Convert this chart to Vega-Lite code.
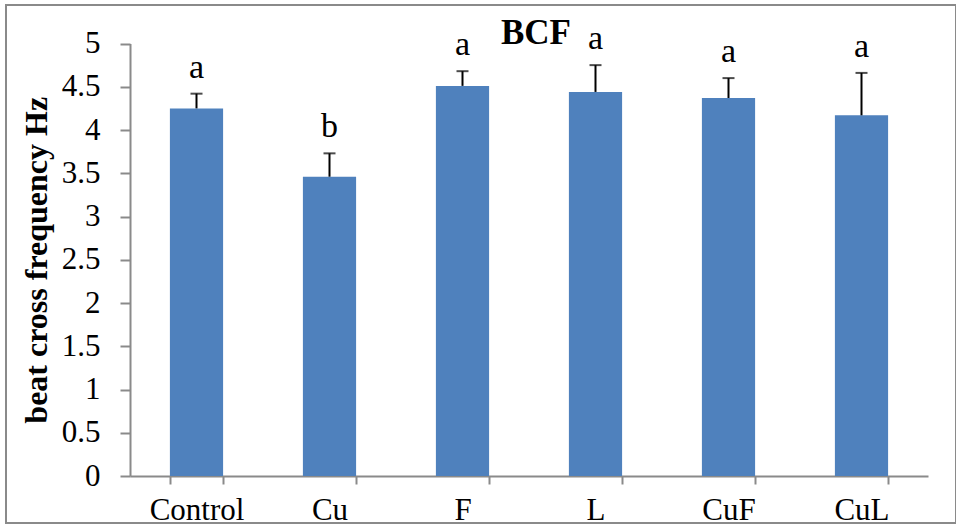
{
  "$schema": "https://vega.github.io/schema/vega-lite/v6.json",
  "width": 950,
  "height": 518,
  "autosize": {"type": "none"},
  "padding": {"left": 6, "top": 5, "right": 0, "bottom": 6},
  "background": "white",
  "config": {
    "view": {"stroke": "#8a8a8a", "strokeWidth": 2},
    "font": "Liberation Serif"
  },
  "data": {
    "values": [
      {"treatment": "Control", "mean": 4.25, "upper": 4.42, "letter": "a"},
      {"treatment": "Cu", "mean": 3.46, "upper": 3.73, "letter": "b"},
      {"treatment": "F", "mean": 4.51, "upper": 4.68, "letter": "a"},
      {"treatment": "L", "mean": 4.44, "upper": 4.75, "letter": "a"},
      {"treatment": "CuF", "mean": 4.37, "upper": 4.6, "letter": "a"},
      {"treatment": "CuL", "mean": 4.17, "upper": 4.66, "letter": "a"}
    ]
  },
  "encoding": {
    "x": {
      "field": "treatment",
      "type": "nominal",
      "sort": null,
      "scale": {"range": [124, 922], "paddingInner": 0.6, "paddingOuter": 0.3},
      "axis": {
        "orient": "bottom",
        "offset": -47,
        "title": null,
        "labelAngle": 0,
        "tickBand": "extent",
        "tickSize": 8,
        "tickWidth": 2,
        "tickColor": "#8a8a8a",
        "domainColor": "#8a8a8a",
        "domainWidth": 2,
        "labelFontSize": 31,
        "labelColor": "black",
        "labelPadding": 11,
        "labelFont": "Liberation Serif"
      }
    }
  },
  "layer": [
    {
      "mark": {"type": "bar", "color": "#4F81BD"},
      "encoding": {
        "y": {
          "field": "mean",
          "type": "quantitative",
          "scale": {"domain": [0, 5], "range": [471, 38.5], "nice": false, "zero": true},
          "axis": {
            "orient": "left",
            "offset": -124,
            "values": [0, 0.5, 1, 1.5, 2, 2.5, 3, 3.5, 4, 4.5, 5],
            "labelExpr": "'' + datum.value",
            "grid": false,
            "domainColor": "#8a8a8a",
            "domainWidth": 2,
            "tickColor": "#8a8a8a",
            "tickWidth": 2,
            "tickSize": 10,
            "labelFontSize": 31,
            "labelColor": "black",
            "labelPadding": 20,
            "labelFont": "Liberation Serif",
            "title": "beat cross frequency Hz",
            "titleFont": "Liberation Serif",
            "titleFontSize": 32,
            "titleFontWeight": "bold",
            "titleColor": "black",
            "titlePadding": 8
          }
        }
      }
    },
    {
      "mark": {"type": "rule", "color": "black", "strokeWidth": 2},
      "encoding": {
        "y": {"field": "mean", "type": "quantitative"},
        "y2": {"field": "upper"}
      }
    },
    {
      "mark": {"type": "tick", "color": "black", "thickness": 2, "size": 12},
      "encoding": {
        "y": {"field": "upper", "type": "quantitative"}
      }
    },
    {
      "mark": {"type": "text", "font": "Liberation Serif", "fontSize": 34, "baseline": "alphabetic", "dy": -16, "color": "black"},
      "encoding": {
        "y": {"field": "upper", "type": "quantitative"},
        "text": {"field": "letter"}
      }
    },
    {
      "data": {"values": [{"chart_title": "BCF"}]},
      "mark": {"type": "text", "font": "Liberation Serif", "fontSize": 35, "fontWeight": "bold", "baseline": "alphabetic", "align": "center", "dx": -33, "color": "black"},
      "encoding": {
        "x": {"datum": "L", "bandPosition": 0},
        "y": {"datum": 5},
        "text": {"field": "chart_title"}
      }
    }
  ]
}
